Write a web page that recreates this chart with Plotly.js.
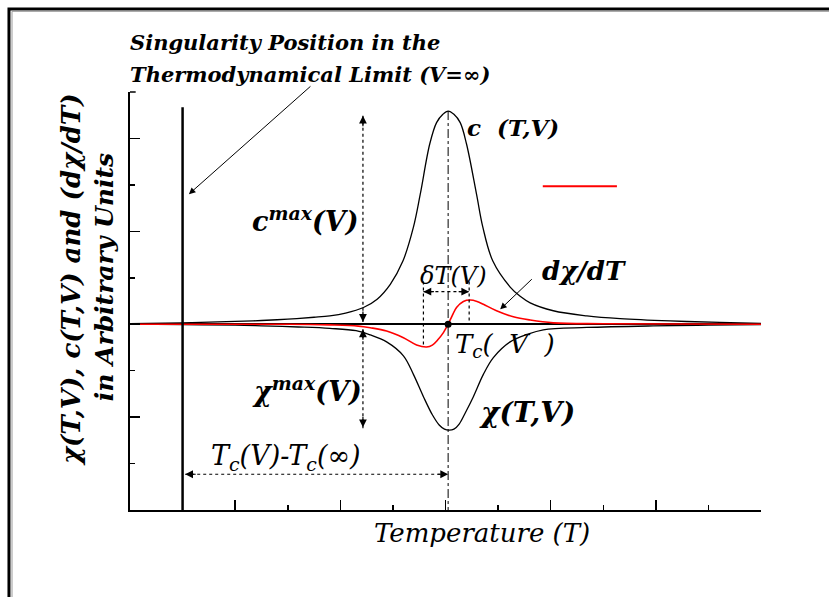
<!DOCTYPE html>
<html>
<head>
<meta charset="utf-8">
<script src="https://cdn.plot.ly/plotly-3.0.1.min.js"></script>
<style>
  html, body { margin: 0; padding: 0; background: #fff; }
  #graph { width: 829px; height: 597px; }
</style>
</head>
<body>
<div id="graph"></div>
<script>
// values (arbitrary units)
const cT = [0.0, 1.0, 2.0, 2.5, 3.0, 3.5, 3.8, 4.1, 4.44, 4.7, 4.95, 5.19, 5.39, 5.52, 5.70, 5.83, 5.95, 6.05,
  6.16, 6.28, 6.40, 6.59, 6.71, 6.90, 7.23, 7.42, 7.61, 8.05, 8.69, 9.32, 10.27, 11.22, 12.0];
const cVal = [0.01, 0.03, 0.06, 0.08, 0.11, 0.15, 0.18, 0.24, 0.36, 0.54, 0.86, 1.36, 2.09, 2.80, 3.88, 4.34, 4.52, 4.59,
  4.52, 4.34, 3.88, 2.80, 2.09, 1.36, 0.80, 0.60, 0.46, 0.29, 0.18, 0.12, 0.07, 0.04, 0.02];

const chiT = [0.0, 1.0, 2.0, 2.5, 3.2, 3.8, 4.3, 4.57, 4.88, 5.20, 5.39, 5.58, 5.75, 5.88, 5.98, 6.07,
  6.16, 6.26, 6.38, 6.53, 6.72, 6.91, 7.23, 7.55, 7.86, 8.69, 9.95, 11.0, 12.0];
const chiVal = [0.0, -0.01, -0.02, -0.035, -0.06, -0.09, -0.14, -0.23, -0.38, -0.68, -1.08, -1.56, -1.95, -2.17, -2.26, -2.28,
  -2.26, -2.15, -1.90, -1.56, -1.08, -0.72, -0.38, -0.22, -0.12, -0.07, -0.036, -0.02, -0.01];

const dT = [0.0, 3.0, 3.8, 4.34, 4.57, 4.88, 5.20, 5.45, 5.64, 5.75, 5.85, 5.96, 6.05, 6.13,
  6.21, 6.34, 6.47, 6.60, 6.72, 6.97, 7.29, 7.61, 8.05, 9.0, 12.0];
const dVal = [0.0, 0.0, -0.015, -0.04, -0.075, -0.145, -0.29, -0.445, -0.49, -0.45, -0.34, -0.18, 0.0, 0.19,
  0.36, 0.49, 0.52, 0.49, 0.43, 0.29, 0.16, 0.09, 0.03, 0.01, 0.0];

// marker points
const tcV = 6.05;        // T_c(V)
const tcInf = 1.0;       // T_c(infinity)
const cMax = 4.59;
const dMinT = 5.58;
const dMaxT = 6.45;

const serif = 'DejaVu Serif, Liberation Serif, serif';

function head(x, y, ax, ay) {
  return {
    x: x, y: y, xref: 'x', yref: 'y', text: '', showarrow: true,
    ax: ax, ay: ay, arrowhead: 2, arrowsize: 1.3, arrowwidth: 1.2, arrowcolor: '#000'
  };
}

function label(text, x, y, size, anchor) {
  return {
    x: x, y: y, xref: 'x', yref: 'y', text: text, showarrow: false,
    xanchor: anchor || 'left', yanchor: 'middle',
    font: { family: serif, size: size, color: '#000' }
  };
}

function paperLabel(text, x, y, size, anchor, angle) {
  return {
    x: x, y: y, xref: 'paper', yref: 'paper', text: text, showarrow: false,
    xanchor: anchor || 'left', yanchor: 'middle', textangle: angle || 0,
    font: { family: serif, size: size, color: '#000' }
  };
}

function seg(x0, y0, x1, y1, dash, width) {
  return {
    type: 'line', xref: 'x', yref: 'y', x0: x0, y0: y0, x1: x1, y1: y1,
    line: { color: '#000', width: width || 1, dash: dash || 'solid' }
  };
}

const traces = [
  {
    x: cT, y: cVal, type: 'scatter', mode: 'lines',
    line: { color: '#000', width: 1.3, shape: 'spline', smoothing: 1 }, name: 'c(T,V)'
  },
  {
    x: chiT, y: chiVal, type: 'scatter', mode: 'lines',
    line: { color: '#000', width: 1.3, shape: 'spline', smoothing: 1 }, name: 'chi(T,V)'
  },
  {
    x: dT, y: dVal, type: 'scatter', mode: 'lines',
    line: { color: '#ff0000', width: 1.6, shape: 'spline', smoothing: 1 }, name: 'dchi/dT'
  },
  {
    x: [tcV], y: [0], type: 'scatter', mode: 'markers',
    marker: { color: '#000', size: 7 }, name: 'Tc'
  }
];

const shapes = [
  // outer frame
  { type: 'rect', xref: 'paper', yref: 'paper', x0: -0.1918, y0: 1.1986, x1: 1.2, y1: -0.3,
    line: { color: '#000', width: 3 } },
  { type: 'line', xref: 'paper', yref: 'paper', x0: -0.187, y0: 1.193, x1: 1.2, y1: 1.193,
    line: { color: '#999', width: 1 } },
  { type: 'line', xref: 'paper', yref: 'paper', x0: -0.187, y0: 1.193, x1: -0.187, y1: -0.3,
    line: { color: '#999', width: 1 } },
  // top end tick of the y axis
  { type: 'line', xref: 'paper', yref: 'paper', x0: 0, y0: 1, x1: 0.009, y1: 1,
    line: { color: '#000', width: 1.5 } },
  // singularity position
  seg(tcInf, -4, tcInf, 4.67, 'solid', 2.5),
  // T_c(V) dash-dot
  seg(tcV, cMax, tcV, -4, 'dashdot', 1),
  // c max and chi max
  seg(4.43, 4.49, 4.43, 0.05, 'dot', 1.2),
  seg(4.43, -0.11, 4.43, -2.3, 'dot', 1.2),
  // delta T
  seg(dMinT, 0.92, dMinT, -0.5, 'dot', 1.2),
  seg(dMaxT, 0.92, dMaxT, 0.0, 'dot', 1.2),
  seg(dMinT, 0.70, dMaxT, 0.70, 'dot', 1.2),
  // T_c(V) - T_c(inf)
  seg(1.05, -3.23, tcV, -3.23, 'dot', 1.2),
  // legend line
  { type: 'line', xref: 'x', yref: 'y', x0: 7.85, y0: 2.97, x1: 9.26, y1: 2.97,
    line: { color: '#ff0000', width: 2 } }
];

const annotations = [
  head(4.43, 4.49, 0, 12),
  head(4.43, 0.05, 0, -12),
  head(4.43, -0.11, 0, 12),
  head(4.43, -2.22, 0, -12),
  head(dMinT, 0.70, 12, 0),
  head(dMaxT, 0.70, -12, 0),
  head(1.05, -3.23, 12, 0),
  head(tcV, -3.23, -12, 0),
  {
    x: 1.12, y: 2.80, xref: 'x', yref: 'y', axref: 'x', ayref: 'y', ax: 3.46, ay: 5.15,
    text: '', showarrow: true, arrowhead: 2, arrowsize: 1.3, arrowwidth: 1, arrowcolor: '#000'
  },
  {
    x: 7.04, y: 0.32, xref: 'x', yref: 'y', axref: 'x', ayref: 'y', ax: 7.67, ay: 1.0,
    text: '', showarrow: true, arrowhead: 2, arrowsize: 1.3, arrowwidth: 1, arrowcolor: '#000'
  },
  paperLabel('<b><i>Singularity Position in the</i></b>', -0.003, 1.1196, 21),
  paperLabel('<b><i>Thermodynamical Limit (V=\u221e)</i></b>', -0.003, 1.043, 21),
  label('<b><i>c  (T,V)</i></b>', 6.37, 4.24, 23),
  label('<b><i>c<sup>max</sup>(V)</i></b>', 2.28, 2.26, 27),
  label('<b><i>\u03c7<sup>max</sup>(V)</i></b>', 2.28, -1.40, 27),
  label('<i>\u03b4T(V)</i>', 5.48, 1.03, 24),
  label('<b><i>d\u03c7/dT</i></b>', 7.80, 1.14, 26),
  label('<i>T<sub>c</sub>(  V  )</i>', 6.14, -0.45, 26),
  label('<b><i>\u03c7(T,V)</i></b>', 6.60, -1.89, 28),
  label('<i>T<sub>c</sub>(V)-T<sub>c</sub>(\u221e)</i>', 1.50, -2.88, 27),
  paperLabel('<i>Temperature (T)</i>', 0.558, -0.055, 26, 'center'),
  paperLabel('<b><i>\u03c7(T,V), c(T,V) and (d\u03c7/dT)</i></b>', -0.0935, 0.55, 26, 'center', -90),
  paperLabel('<b><i>in Arbitrary Units</i></b>', -0.041, 0.557, 25, 'center', -90)
];

const layout = {
  width: 829,
  height: 597,
  margin: { l: 130, r: 68, t: 92, b: 87 },
  paper_bgcolor: '#fff',
  plot_bgcolor: '#fff',
  showlegend: false,
  xaxis: {
    range: [0, 12], tick0: 0, dtick: 2, ticks: 'inside', ticklen: 10, tickwidth: 1.5, tickcolor: '#000',
    minor: { dtick: 1, ticks: 'inside', ticklen: 5, tickwidth: 1.5, tickcolor: '#000' },
    showticklabels: false, showgrid: false, zeroline: false,
    showline: true, linecolor: '#000', linewidth: 2
  },
  yaxis: {
    range: [-4, 5], tick0: 0, dtick: 2, ticks: 'inside', ticklen: 10, tickwidth: 1.5, tickcolor: '#000',
    minor: { dtick: 1, ticks: 'inside', ticklen: 5, tickwidth: 1.5, tickcolor: '#000' },
    showticklabels: false, showgrid: false,
    zeroline: true, zerolinecolor: '#000', zerolinewidth: 2.5,
    showline: true, linecolor: '#000', linewidth: 2
  },
  shapes: shapes,
  annotations: annotations
};

Plotly.newPlot('graph', traces, layout, { staticPlot: true });
</script>
</body>
</html>
